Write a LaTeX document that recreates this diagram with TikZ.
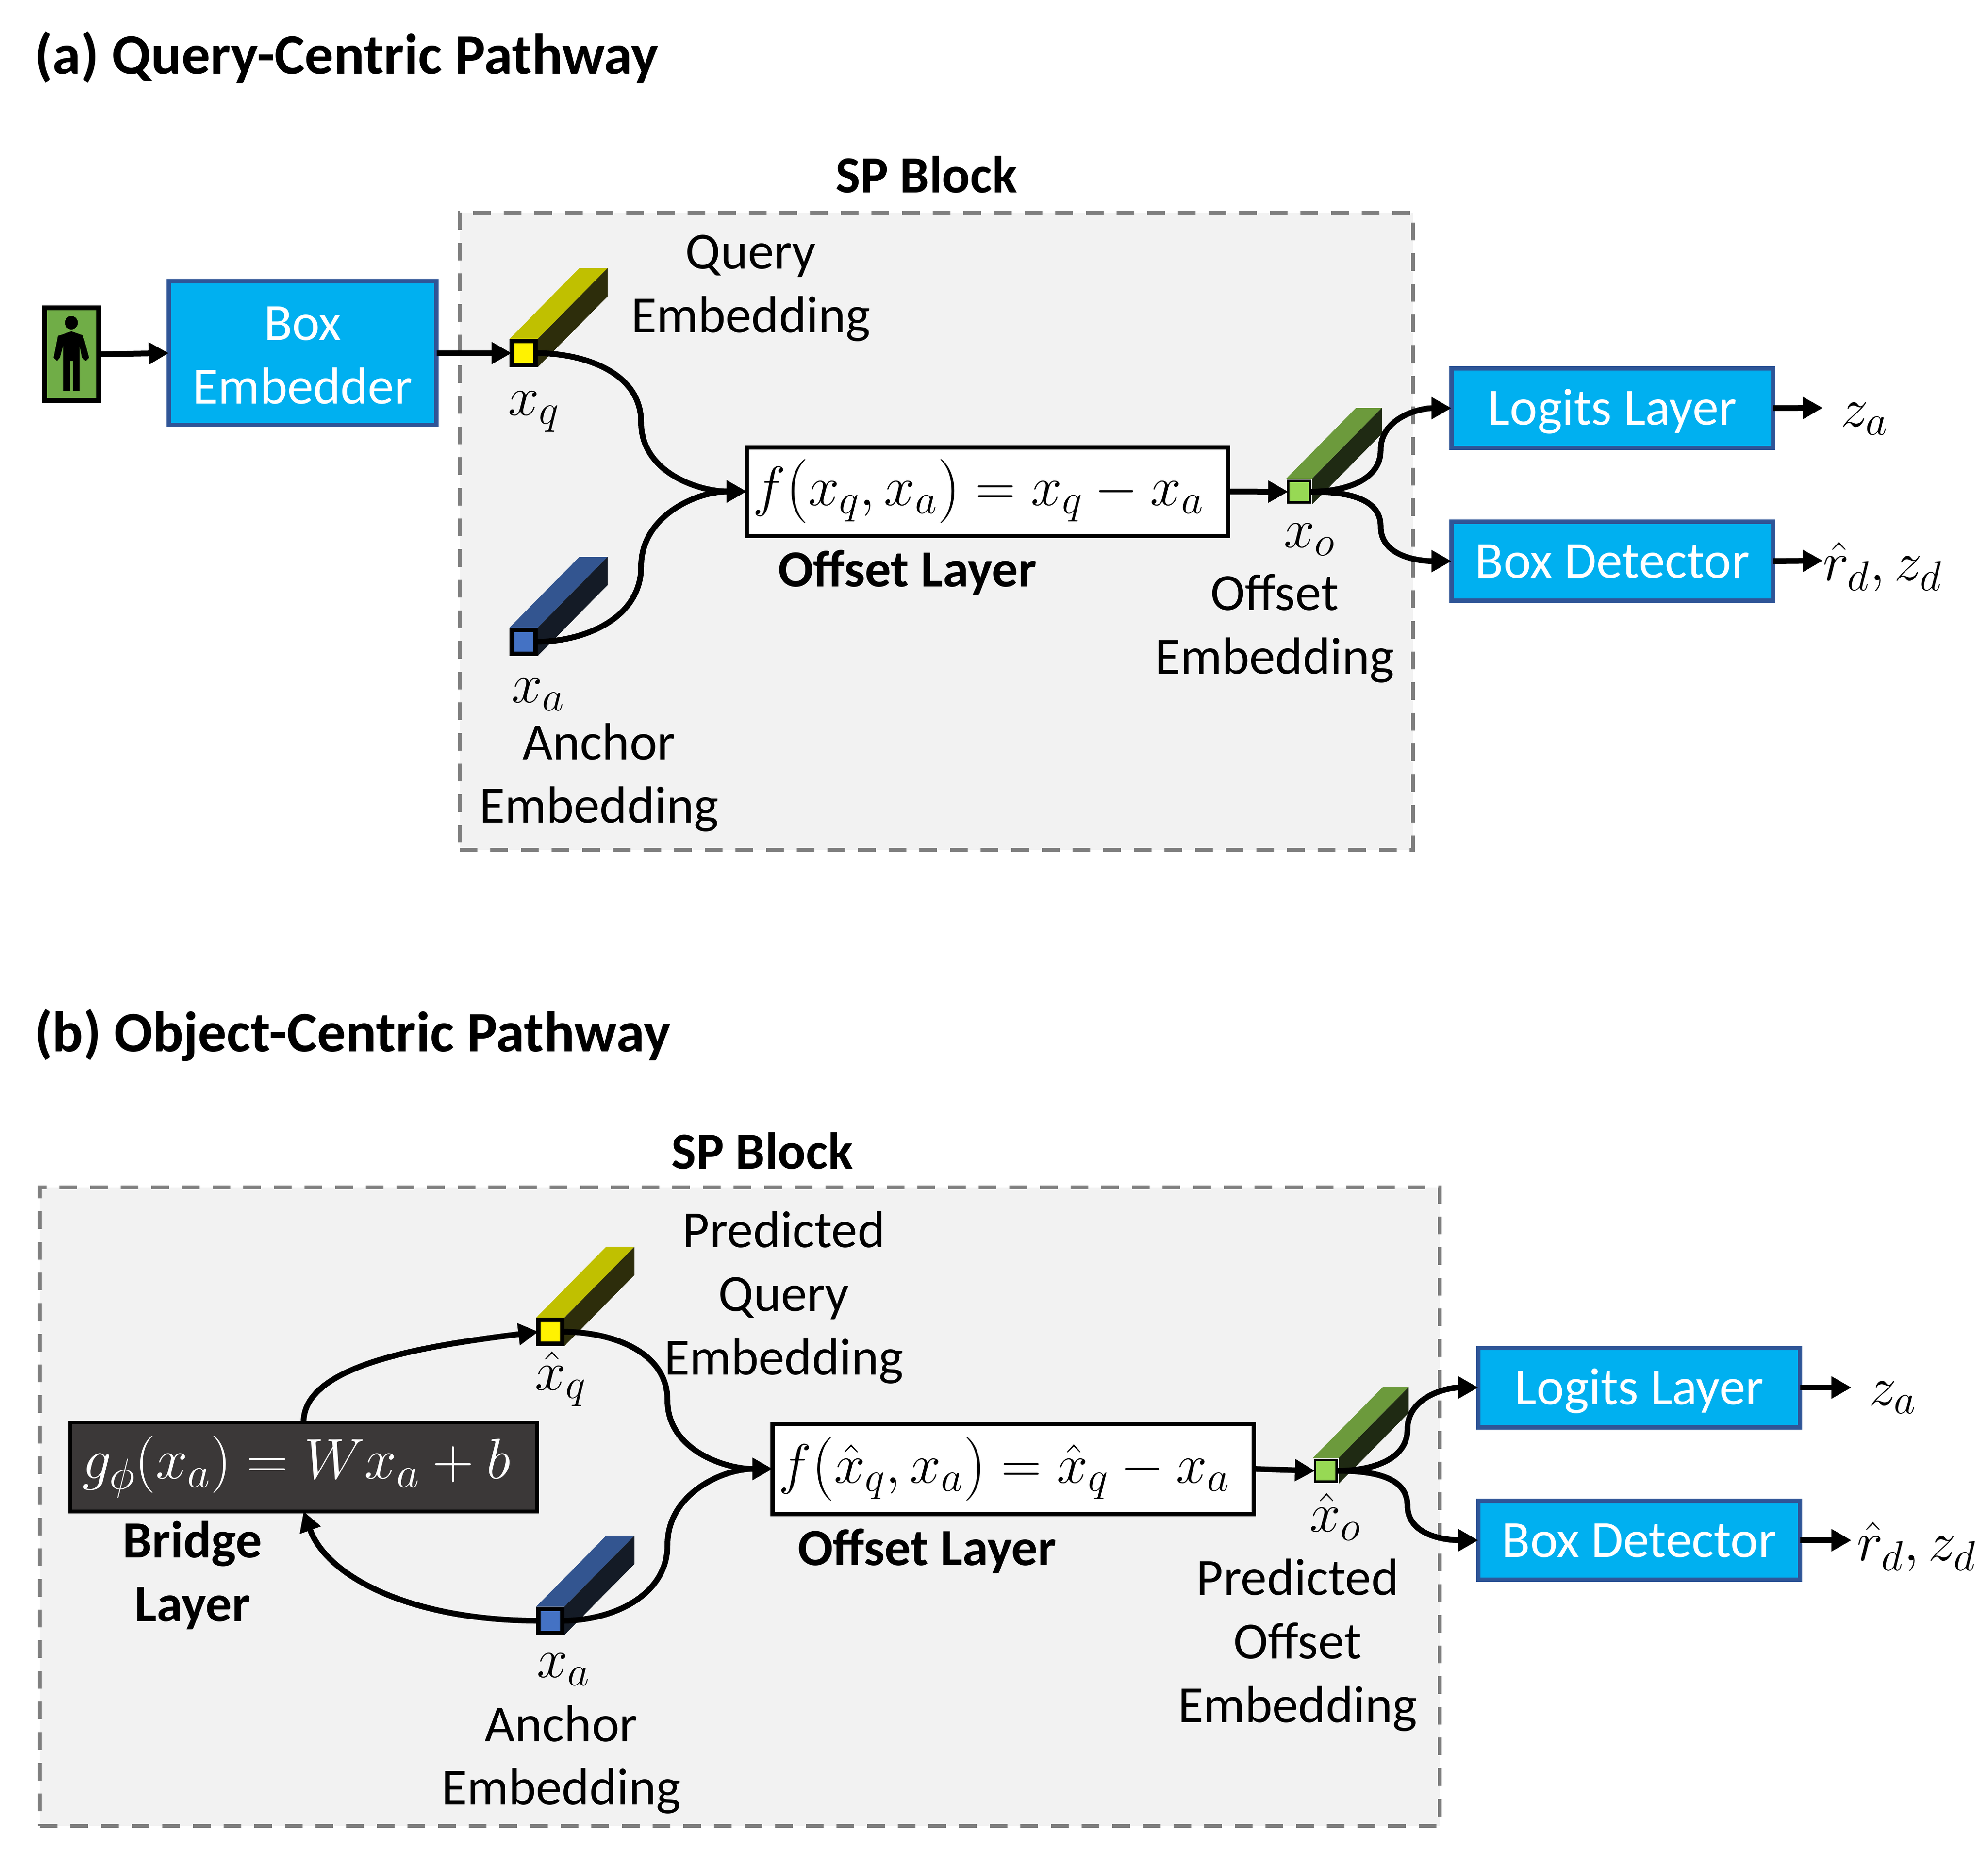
\documentclass[tikz,border=0pt]{standalone}
\usepackage{fix-cm}
\usepackage{fontspec}
\setmainfont{Carlito}
\usetikzlibrary{arrows.meta,calc}
\DeclareMathSizes{33}{33}{25}{20}
\DeclareMathSizes{34}{34}{26}{20}
\definecolor{boxblue}{HTML}{00B0F0}
\definecolor{boxedge}{HTML}{2F5597}
\definecolor{blockfill}{HTML}{F2F2F2}
\definecolor{blockedge}{HTML}{7F7F7F}
\definecolor{bridgefill}{HTML}{3B3838}
\definecolor{personfill}{HTML}{70AD47}
\definecolor{yellowtop}{HTML}{C0C000}
\definecolor{yellowside}{HTML}{2D2D0B}
\definecolor{bluetop}{HTML}{335590}
\definecolor{blueface}{HTML}{4472C4}
\definecolor{blueside}{HTML}{141B26}
\definecolor{greentop}{HTML}{6C9A3C}
\definecolor{greenface}{HTML}{97D954}
\definecolor{greenside}{HTML}{1F2A13}
\tikzset{
  link/.style={-{Triangle[length=0.42cm,width=0.44cm]},line width=0.12cm,black},
  block/.style={draw=blockedge,fill=blockfill,dash pattern=on 0.37cm off 0.27cm,line width=0.08cm,inner sep=0,outer sep=0},
  layerbox/.style={draw=boxedge,fill=boxblue,text=white,line width=0.09cm,inner sep=0,outer sep=0,align=center,font=\bodyfont},
  layerline/.style={layerbox,text height=0.7cm,text depth=0cm},
  formula/.style={draw=black,fill=white,line width=0.09cm,inner sep=0,outer sep=0,font=\mathfont},
  label/.style={inner sep=0,align=center,font=\bodyfont},
  boldlabel/.style={label,font=\bodyfont\bfseries},
  title/.style={inner sep=0,anchor=west,font=\titlefont\bfseries},
  symbol/.style={inner sep=0,font=\mathfont}
}
\newcommand{\bodyfont}{\fontsize{31}{37.8}\selectfont}
\newcommand{\titlefont}{\fontsize{34}{40}\selectfont}
\newcommand{\mathfont}{\fontsize{33}{38}\selectfont}
% tall round brackets of the offset formula
\newcommand{\tallopen}{\mathopen{\raisebox{-1.25pt}{\fontsize{38}{38}\selectfont$($}}}
\newcommand{\tallclose}{\mathclose{\raisebox{-1.25pt}{\fontsize{38}{38}\selectfont$)$}}}
% name, centre, face colour with edge, top colour, side colour, half width
\newcommand{\embedbar}[6]{
  \fill[#4] #2 +(-#6,#6) -- +(1.46-#6,1.48+#6) -- +(1.46+#6,1.48+#6) -- +(#6,#6) -- cycle;
  \fill[#5] #2 +(#6,#6) -- +(1.46+#6,1.48+#6) -- +(1.46+#6,1.48-#6) -- +(#6,-#6) -- cycle;
  \node[draw=black,#3,inner sep=0,outer sep=0,minimum size={2*#6 cm-0.09cm}] (#1) at #2 {};
}

\begin{document}
\begin{tikzpicture}
  \useasboundingbox (0,0) rectangle (41.52,-38.63);

  % (a) query-centric pathway
  \node[title] (titlea) at (0.72,-1.20) {(a) Query-Centric Pathway};
  \node[block,minimum width=19.91cm,minimum height=13.31cm] (blocka) at (19.555,-11.095) {};
  \node[boldlabel] (blocklabela) at (19.35,-3.65) {SP Block};

  \node[draw=black,fill=personfill,line width=0.1cm,inner sep=0,outer sep=0,minimum width=1.13cm,minimum height=1.94cm] (person) at (1.495,-7.40) {};
  \fill (1.49,-6.74) ellipse (0.135 and 0.14);
  \fill (1.49,-6.92) -- (1.72,-7.00) -- (1.76,-7.10) -- (1.86,-7.47) -- (1.79,-7.54) -- (1.71,-7.47) -- (1.66,-7.21) -- (1.66,-8.16) -- (1.52,-8.16) -- (1.52,-7.54) -- (1.46,-7.54) -- (1.46,-8.16) -- (1.32,-8.16) -- (1.32,-7.21) -- (1.25,-7.47) -- (1.19,-7.54) -- (1.12,-7.47) -- (1.21,-7.01) -- (1.26,-7.00) -- cycle;

  \node[layerbox,minimum width=5.59cm,minimum height=3.0cm] (embedder) at (6.32,-7.375) {};
  \node[label,text=white] (embeddertext) at (6.32,-7.425) {Box\\Embedder};
  \embedbar{queryface}{(10.935,-7.375)}{fill=yellow,line width=0.09cm}{yellowtop}{yellowside}{0.295}
  \embedbar{anchorface}{(10.935,-13.405)}{fill=blueface,line width=0.09cm}{bluetop}{blueside}{0.295}
  \node[formula,minimum width=10.05cm,minimum height=1.85cm] (offset) at (20.62,-10.265) {$f\tallopen x_q,x_a\tallclose=x_q-x_a\hspace*{0.37cm}$};
  \embedbar{outface}{(27.13,-10.27)}{fill=greenface,line width=0.05cm}{greentop}{greenside}{0.27}
  \node[layerline,minimum width=6.72cm,minimum height=1.66cm] (logits) at (33.675,-8.525) {Logits Layer};
  \node[layerline,minimum width=6.72cm,minimum height=1.65cm] (detector) at (33.675,-11.72) {Box Detector};

  \node[symbol] (xq) at (11.15,-8.60) {$x_q$};
  \node[symbol] (xa) at (11.24,-14.51) {$x_a$};
  \node[symbol] (xo) at (27.35,-11.27) {$x_o$};
  \node[symbol] (za) at (38.94,-8.75) {$z_a$};
  \node[symbol,anchor=west] (rd) at (38.07,-11.83) {$\hat r_d,z_d$};
  \node[label] (querylabel) at (15.68,-6.02) {Query\\Embedding};
  \node[label] (anchorlabel) at (12.51,-16.24) {Anchor\\Embedding};
  \node[label] (outlabel) at (26.62,-13.13) {Offset\\Embedding};
  \node[boldlabel] (offsetlabel) at (18.95,-11.96) {Offset Layer};

  \coordinate (zaend) at (38.07,-8.52);
  \coordinate (rdend) at (38.07,-11.71);
  \draw[link] (person.east) -- (embedder.west);
  \draw[link] (embedder.east) -- (queryface.west);
  \draw[link] (queryface.east) to[out=0,in=90] ($(queryface.east)!0.5!(offset.west)$) to[out=-90,in=180] (offset.west);
  \draw[link] (anchorface.east) to[out=0,in=-90] ($(anchorface.east)!0.5!(offset.west)$) to[out=90,in=180] (offset.west);
  \draw[link] (offset.east) -- (outface.west);
  \draw[link] (outface.east) to[out=0,in=-90] ($(outface.east)!0.5!(logits.west)$) to[out=90,in=180] (logits.west);
  \draw[link] (outface.east) to[out=0,in=90] ($(outface.east)!0.5!(detector.west)$) to[out=-90,in=180] (detector.west);
  \draw[link] (logits.east) -- (zaend);
  \draw[link] (detector.east) -- (rdend);

  % (b) object-centric pathway
  \node[title] (titleb) at (0.72,-21.62) {(b) Object-Centric Pathway};
  \node[block,minimum width=29.24cm,minimum height=13.34cm] (blockb) at (15.45,-31.47) {};
  \node[boldlabel] (blocklabelb) at (15.92,-24.04) {SP Block};

  \node[draw=black,fill=bridgefill,text=white,line width=0.08cm,inner sep=0,outer sep=0,font=\fontsize{34}{38}\selectfont,minimum width=9.75cm,minimum height=1.86cm] (bridge) at (6.34,-30.635) {$g_\phi(x_a)=Wx_a+b\hspace*{0.3cm}$};
  \embedbar{predface}{(11.495,-27.815)}{fill=yellow,line width=0.09cm}{yellowtop}{yellowside}{0.295}
  \embedbar{anchorfaceb}{(11.495,-33.85)}{fill=blueface,line width=0.09cm}{bluetop}{blueside}{0.295}
  \node[formula,minimum width=10.05cm,minimum height=1.88cm] (offsetb) at (21.16,-30.68) {$f\tallopen\hat x_q,x_a\tallclose=\hat x_q-x_a\hspace*{0.37cm}$};
  \embedbar{outfaceb}{(27.69,-30.72)}{fill=greenface,line width=0.05cm}{greentop}{greenside}{0.27}
  \node[layerline,minimum width=6.72cm,minimum height=1.66cm] (logitsb) at (34.235,-28.98) {Logits Layer};
  \node[layerline,minimum width=6.72cm,minimum height=1.65cm] (detectorb) at (34.235,-32.17) {Box Detector};

  \node[symbol] (xqb) at (11.71,-28.80) {$\hat x_q$};
  \node[symbol] (xab) at (11.77,-34.87) {$x_a$};
  \node[symbol] (xob) at (27.89,-31.68) {$\hat x_o$};
  \node[symbol] (zab) at (39.53,-29.19) {$z_a$};
  \node[symbol,anchor=west] (rdb) at (38.78,-32.30) {$\hat r_d,z_d$};
  \node[label] (predlabel) at (16.37,-27.10) {Predicted\\Query\\Embedding};
  \node[label] (anchorlabelb) at (11.72,-36.75) {Anchor\\Embedding};
  \node[label] (outlabelb) at (27.10,-34.36) {Predicted\\Offset\\Embedding};
  \node[boldlabel] (bridgelabel) at (4.02,-32.90) {Bridge\\Layer};
  \node[boldlabel] (offsetlabelb) at (19.36,-32.40) {Offset Layer};

  \coordinate (zaendb) at (38.67,-28.98);
  \coordinate (rdendb) at (38.67,-32.17);
  \draw[link] (bridge.north) .. controls +(0,1.2) and +(-2.4,-0.3) .. (predface.west);
  \draw[link] (anchorfaceb.west) .. controls +(-2.6,0) and +(0.5,-1.4) .. (bridge.south);
  \draw[link] (predface.east) to[out=0,in=90] ($(predface.east)!0.5!(offsetb.west)$) to[out=-90,in=180] (offsetb.west);
  \draw[link] (anchorfaceb.east) to[out=0,in=-90] ($(anchorfaceb.east)!0.5!(offsetb.west)$) to[out=90,in=180] (offsetb.west);
  \draw[link] (offsetb.east) -- (outfaceb.west);
  \draw[link] (outfaceb.east) to[out=0,in=-90] ($(outfaceb.east)!0.5!(logitsb.west)$) to[out=90,in=180] (logitsb.west);
  \draw[link] (outfaceb.east) to[out=0,in=90] ($(outfaceb.east)!0.5!(detectorb.west)$) to[out=-90,in=180] (detectorb.west);
  \draw[link] (logitsb.east) -- (zaendb);
  \draw[link] (detectorb.east) -- (rdendb);
\end{tikzpicture}
\end{document}
